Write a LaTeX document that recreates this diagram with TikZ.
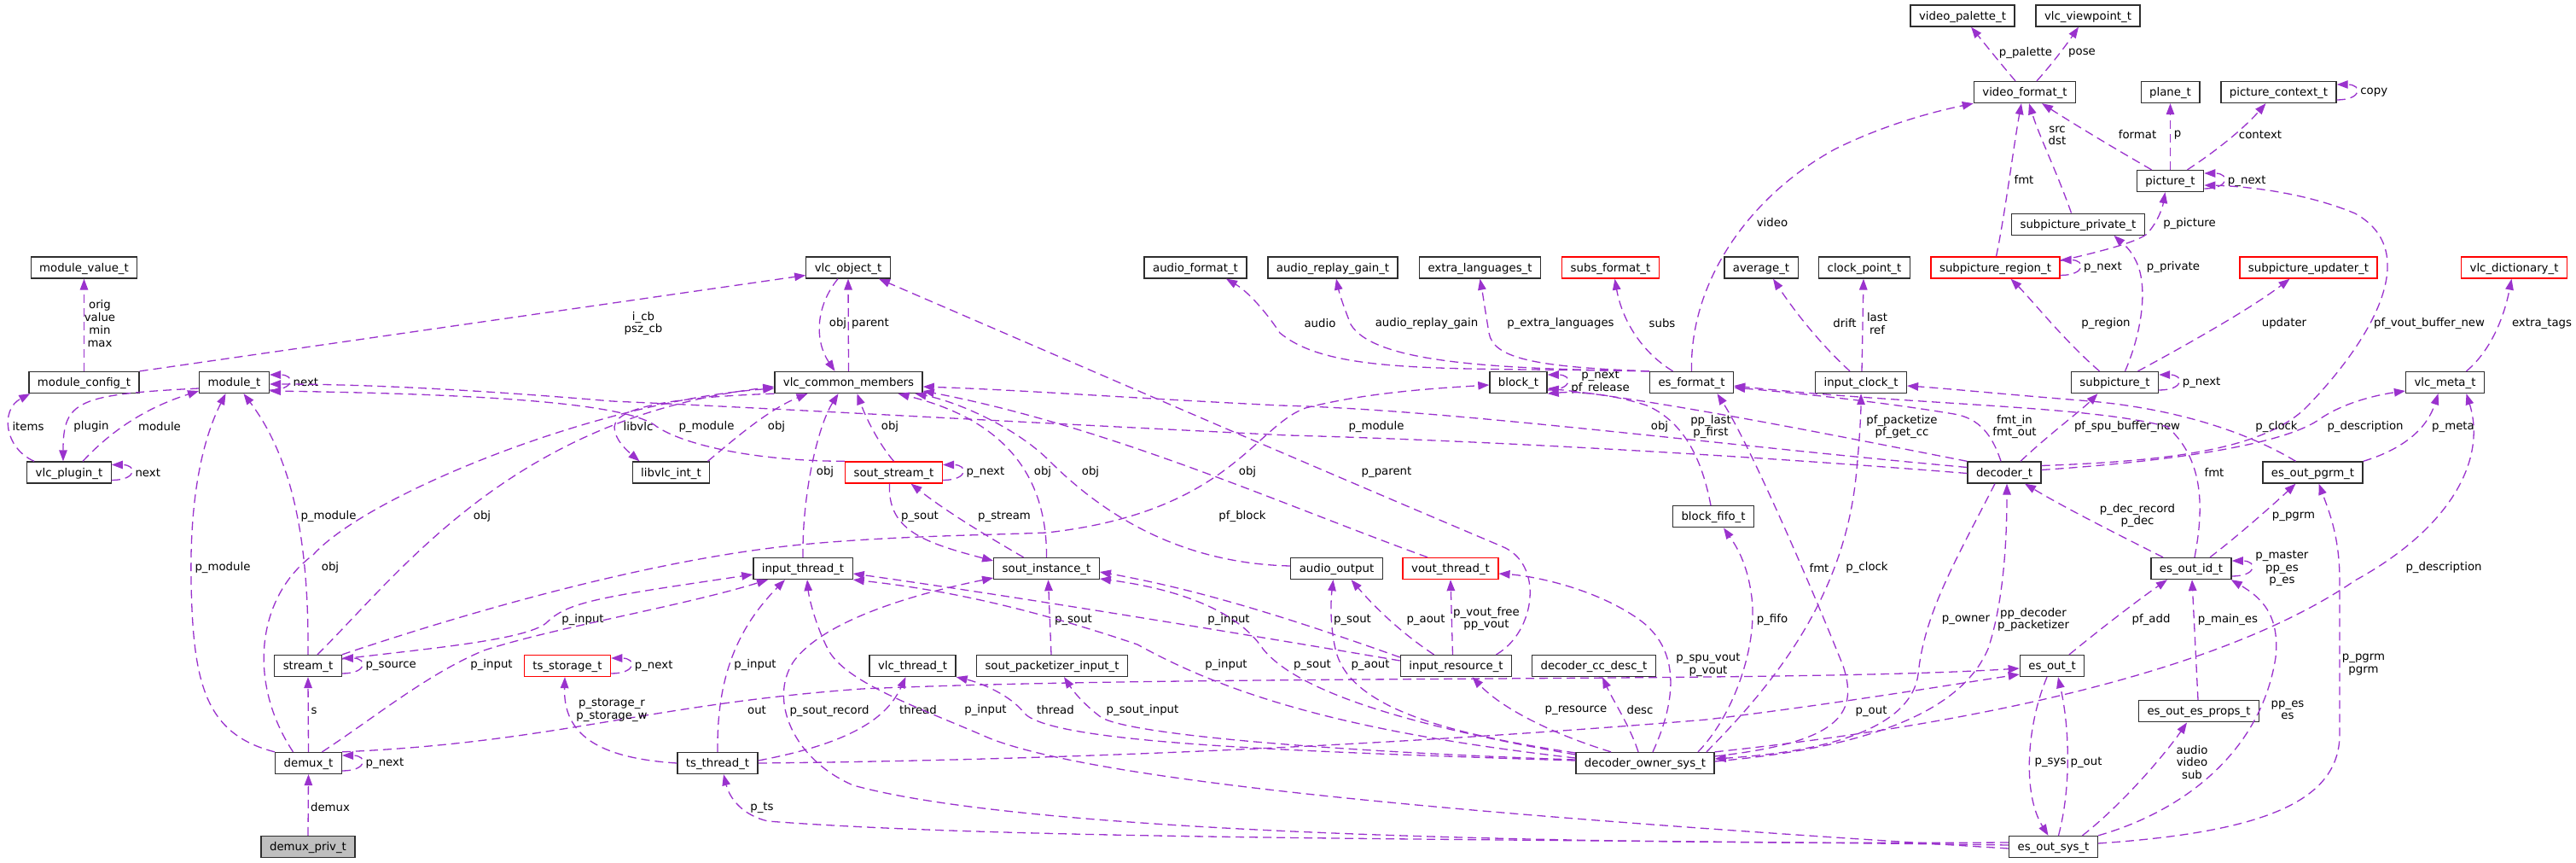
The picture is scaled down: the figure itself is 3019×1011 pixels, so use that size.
\documentclass[tikz,border=0pt]{standalone}
\usepackage{fontspec}
\setmainfont{DejaVu Sans}
\usetikzlibrary{arrows.meta}
\definecolor{linkcol}{HTML}{9A32CD}
\tikzset{cls/.style={draw=black!82, line width=1.3pt, fill=white, font=\fontsize{13.3}{14.7}\selectfont, inner xsep=10pt, inner ysep=0pt, minimum height=25pt, text height=11.5pt, text depth=2.3pt},
redcls/.style={cls, draw=red},
focuscls/.style={cls, fill=black!25}}

\begin{document}
\begin{tikzpicture}[x=1pt, y=-1pt,
  link/.style={draw=linkcol, line width=1.3pt, dash pattern=on 10pt off 6pt, -{Triangle[length=13pt,width=9.5pt]}},
  lbl/.style={font=\fontsize{13.3}{14.7}\selectfont, inner sep=0pt, align=center}]

\path[use as bounding box, fill=white] (0,0) rectangle (3019,1011);

% Nodes
\node[cls] (mval) at (98.5,313.5) {module\_value\_t};
\node[cls] (mcfg) at (98.5,448) {module\_config\_t};
\node[cls] (mod) at (274.5,448) {module\_t};
\node[cls] (plug) at (81,553.5) {vlc\_plugin\_t};
\node[cls] (strm) at (361,780) {stream\_t};
\node[cls] (dmx) at (361.5,894) {demux\_t};
\node[focuscls] (dpriv) at (361,992) {demux\_priv\_t};
\node[cls] (vobj) at (994,313.5) {vlc\_object\_t};
\node[cls] (vcm) at (994.5,448) {vlc\_common\_members};
\node[cls] (libvlc) at (786.5,553.5) {libvlc\_int\_t};
\node[cls] (inth) at (941,666) {input\_thread\_t};
\node[redcls] (tsst) at (665,780) {ts\_storage\_t};
\node[cls] (tsth) at (841,894) {ts\_thread\_t};
\node[redcls] (soutst) at (1047.5,553.5) {sout\_stream\_t};
\node[cls] (soutin) at (1226.5,666) {sout\_instance\_t};
\node[cls] (vthr) at (1069.5,780) {vlc\_thread\_t};
\node[cls] (spkt) at (1233,780) {sout\_packetizer\_input\_t};
\node[cls] (afmt) at (1401,313.5) {audio\_format\_t};
\node[cls] (argain) at (1562,313.5) {audio\_replay\_gain\_t};
\node[cls] (xlang) at (1734.5,313.5) {extra\_languages\_t};
\node[redcls] (subsf) at (1887.5,313.5) {subs\_format\_t};
\node[cls] (blk) at (1779.5,448) {block\_t};
\node[cls] (esfmt) at (1982.5,448) {es\_format\_t};
\node[cls] (aout) at (1566.5,666) {audio\_output};
\node[redcls] (vout) at (1700,666) {vout\_thread\_t};
\node[cls] (bfifo) at (2008,605.3) {block\_fifo\_t};
\node[cls] (ires) at (1706.5,780) {input\_resource\_t};
\node[cls] (ccdesc) at (1868,780) {decoder\_cc\_desc\_t};
\node[cls] (dos) at (1928,894) {decoder\_owner\_sys\_t};
\node[cls] (vpal) at (2300,18.5) {video\_palette\_t};
\node[cls] (vview) at (2447,18.5) {vlc\_viewpoint\_t};
\node[cls] (vfmt) at (2373,108) {video\_format\_t};
\node[cls] (sppriv) at (2435.5,262.7) {subpicture\_private\_t};
\node[cls] (avg) at (2064,313.5) {average\_t};
\node[cls] (clkpt) at (2185,313.5) {clock\_point\_t};
\node[redcls] (spreg) at (2338.5,313.5) {subpicture\_region\_t};
\node[cls] (iclk) at (2181,448) {input\_clock\_t};
\node[cls] (spic) at (2478.5,448) {subpicture\_t};
\node[cls] (dec) at (2349,553.5) {decoder\_t};
\node[cls] (esout) at (2405,780) {es\_out\_t};
\node[cls] (essys) at (2406.5,992) {es\_out\_sys\_t};
\node[cls] (plane) at (2543.5,108) {plane\_t};
\node[cls] (pctx) at (2670.5,108) {picture\_context\_t};
\node[cls] (pic) at (2543.5,212) {picture\_t};
\node[redcls] (spupd) at (2705.5,313.5) {subpicture\_updater\_t};
\node[redcls] (vdict) at (2946.5,313.5) {vlc\_dictionary\_t};
\node[cls] (vmeta) at (2865.5,448) {vlc\_meta\_t};
\node[cls] (pgrm) at (2710.5,553.5) {es\_out\_pgrm\_t};
\node[cls] (esid) at (2568,666) {es\_out\_id\_t};
\node[cls] (esprops) at (2577,833.3) {es\_out\_es\_props\_t};

% Self references
\foreach \n/\t in {mod/next, plug/next, strm/p\_source, dmx/p\_next, tsst/p\_next, soutst/p\_next, blk/{p\_next\\pf\_release}, pctx/copy, pic/p\_next, spreg/p\_next, spic/p\_next, esid/{p\_master\\pp\_es\\p\_es}}
  \draw[link] ([yshift=-9pt]\n.east) .. controls +(30,0) and +(30,0) .. ([yshift=9pt]\n.east) node[lbl, anchor=west] at ([xshift=27pt]\n.east) {\t};

% Module side
\draw[link] (mcfg.north) -- (mval.south) node[lbl] at (117,379) {orig\\value\\min\\max};
\draw[link] (mcfg.north east) -- ([yshift=-9pt]vobj.west) node[lbl] at (754,379) {i\_cb\\psz\_cb};
\draw[link] ([xshift=9pt]plug.north west) .. controls (5,525) and (0,480) .. ([xshift=2pt]mcfg.south west) node[lbl] at (33,500) {items};
\draw[link] ([yshift=-7pt]mod.west) .. controls (90,462) and (74,470) .. ([xshift=-7pt]plug.north) node[lbl] at (107,500) {plugin};
\draw[link] ([xshift=16pt]plug.north) .. controls (130,505) and (170,478) .. ([yshift=-10pt]mod.west) node[lbl] at (187,500) {module};
\draw[link] (dmx.north west) .. controls (240,860) and (226,800) .. (224,680) .. controls (222,560) and (245,500) .. ([xshift=-10pt]mod.south) node[lbl] at (261,665) {p\_module};
\draw[link] (strm.north) .. controls (362,640) and (345,540) .. ([xshift=11pt]mod.south) node[lbl] at (385,605) {p\_module};
\draw[link] ([xshift=-18pt]dmx.north) .. controls (290,800) and (300,700) .. (367,650) .. controls (430,580) and (700,470) .. ([yshift=-7pt]vcm.west) node[lbl] at (387,665) {obj};
\draw[link] ([xshift=11pt]strm.north) .. controls (470,670) and (600,490) .. ([yshift=-5pt]vcm.west) node[lbl] at (565,605) {obj};
\draw[link] (dpriv.north) -- (dmx.south) node[lbl] at (387,946) {demux};
\draw[link] (dmx.north) -- (strm.south) node[lbl] at (368,833) {s};
\draw[link] ([yshift=8pt]strm.east) .. controls (500,760) and (615,750) .. (640,730) .. controls (665,705) and (700,700) .. ([yshift=-7pt]inth.west) node[lbl] at (683,726) {p\_input};
\draw[link] (strm.north east) .. controls (600,700) and (800,650) .. (950,637) .. controls (1050,628) and (1150,627) .. (1227,624) .. controls (1440,600) and (1470,500) .. (1530,478) .. controls (1600,460) and (1680,455) .. ([yshift=-3pt]blk.west) node[lbl] at (1456,605) {pf\_block};
\draw[link] ([xshift=16pt]dmx.north) .. controls (440,840) and (500,790) .. (567,762) .. controls (650,735) and (800,710) .. ([xshift=-41pt]inth.south) node[lbl] at (576,779) {p\_input};
\draw[link] (dmx.north east) .. controls (650,870) and (760,825) .. (1010,807) .. controls (1400,790) and (2100,800) .. ([yshift=-3pt]esout.west) node[lbl] at (887,832) {out};

% Input thread side
\draw[link] (tsth.west) .. controls (700,888) and (660,860) .. ([xshift=-3pt]tsst.south) node[lbl] at (717,832) {p\_storage\_r\\p\_storage\_w};
\draw[link] (tsth.north) .. controls (840,800) and (860,740) .. ([xshift=-21pt]inth.south) node[lbl] at (885,779) {p\_input};
\draw[link] ([yshift=3pt]tsth.east) .. controls (1000,870) and (1040,840) .. ([xshift=-8pt]vthr.south) node[lbl] at (1076,832) {thread};
\draw[link] (tsth.east) .. controls (1300,890) and (1700,868) .. (2000,843) .. controls (2150,825) and (2300,800) .. ([yshift=-10pt]esout.west) node[lbl] at (2193,833) {p\_out};
\draw[link] ([yshift=2pt]essys.west) .. controls (1800,982) and (1200,985) .. (900,962) .. controls (870,955) and (855,935) .. ([xshift=7pt]tsth.south) node[lbl] at (893,946) {p\_ts};
\draw[link] ([yshift=5pt]essys.west) .. controls (1800,990) and (1200,975) .. (1000,920) .. controls (930,890) and (900,820) .. (930,775) .. controls (970,720) and (1100,690) .. ([yshift=-11pt]soutin.west) node[lbl] at (972,833) {p\_sout\_record};
\draw[link] ([yshift=-2pt]essys.west) .. controls (1800,960) and (1300,920) .. (1160,865) .. controls (1080,830) and (990,800) .. (970,760) .. controls (955,730) and (948,700) .. ([xshift=5pt]inth.south) node[lbl] at (1155,832) {p\_input};
\draw[link] (inth.north) .. controls (940,580) and (958,500) .. ([xshift=-12pt]vcm.south) node[lbl] at (967,553) {obj};
\draw[link] ([xshift=43pt]libvlc.north) .. controls (860,515) and (900,480) .. ([xshift=-48pt]vcm.south) node[lbl] at (910,500) {obj};
\draw[link] (vcm.south west) .. controls (800,465) and (722,475) .. (720,500) .. controls (720,515) and (735,528) .. ([xshift=-37pt]libvlc.north) node[lbl] at (748,500) {libvlc};
\draw[link] (soutst.north west) .. controls (880,540) and (800,520) .. (770,500) .. controls (740,475) and (600,462) .. ([yshift=-10pt]mod.east) node[lbl] at (828,500) {p\_module};

% Object
\draw[link] ([xshift=-12pt]vobj.south) .. controls (955,360) and (955,400) .. ([xshift=-16pt]vcm.north) node[lbl] at (982,379) {obj};
\draw[link] (vcm.north) -- (vobj.south) node[lbl] at (1020,379) {parent};

% Stream output
\draw[link] ([xshift=-5pt]soutst.south) .. controls (1040,620) and (1080,635) .. ([yshift=9pt]soutin.west) node[lbl] at (1078,605) {p\_sout};
\draw[link] ([xshift=-27pt]soutin.north) .. controls (1160,630) and (1110,600) .. ([xshift=20pt]soutst.south) node[lbl] at (1177,605) {p\_stream};
\draw[link] (soutst.north) .. controls (1030,520) and (1015,490) .. ([xshift=10pt]vcm.south) node[lbl] at (1043,500) {obj};
\draw[link] (soutin.north) .. controls (1227,570) and (1190,495) .. ([xshift=58pt]vcm.south) node[lbl] at (1222,553) {obj};
\draw[link] ([yshift=3pt]aout.west) .. controls (1380,660) and (1290,600) .. (1230,540) .. controls (1190,500) and (1120,470) .. ([xshift=78pt]vcm.south) node[lbl] at (1278,553) {obj};
\draw[link] ([xshift=-27pt]vout.north) .. controls (1500,590) and (1300,500) .. ([yshift=-10pt]vcm.east) node[lbl] at (1462,553) {obj};
\draw[link] ([xshift=-1pt]spkt.north) -- ([xshift=2pt]soutin.south) node[lbl] at (1258,726) {p\_sout};

% Input resource
\draw[link] ([xshift=47pt]ires.north) .. controls (1800,740) and (1810,660) .. (1760,640) .. controls (1500,530) and (1200,400) .. ([xshift=36pt]vobj.south) node[lbl] at (1625,553) {p\_parent};
\draw[link] ([xshift=-26pt]ires.north) .. controls (1640,740) and (1610,710) .. ([xshift=17pt]aout.south) node[lbl] at (1671,726) {p\_aout};
\draw[link] ([xshift=-4pt]ires.north) -- (vout.south) node[lbl] at (1742,725) {p\_vout\_free\\pp\_vout};
\draw[link] ([yshift=10pt]ires.west) .. controls (1500,720) and (1400,690) .. ([yshift=-4pt]soutin.east) node[lbl] at (1585,726) {p\_sout};
\draw[link] ([yshift=6pt]ires.west) .. controls (1500,750) and (1200,700) .. ([yshift=-6pt]inth.east) node[lbl] at (1440,726) {p\_input};

% Decoder owner
\draw[link] ([yshift=10pt]dos.west) .. controls (1650,850) and (1520,810) .. (1480,760) .. controls (1450,715) and (1380,690) .. ([yshift=-12pt]soutin.east) node[lbl] at (1538,779) {p\_sout};
\draw[link] ([yshift=12pt]dos.west) .. controls (1700,860) and (1580,830) .. (1565,760) .. controls (1558,730) and (1560,700) .. ([xshift=-4pt]aout.south) node[lbl] at (1606,779) {p\_aout};
\draw[link] ([yshift=6pt]dos.west) .. controls (1600,860) and (1450,820) .. (1333,755) .. controls (1200,710) and (1100,690) .. (inth.south east) node[lbl] at (1437,779) {p\_input};
\draw[link] ([yshift=3pt]dos.west) .. controls (1500,880) and (1230,870) .. (1200,835) .. controls (1185,815) and (1150,800) .. (vthr.south east) node[lbl] at (1237,832) {thread};
\draw[link] ([yshift=4pt]dos.west) .. controls (1550,880) and (1320,860) .. (1290,840) .. controls (1270,825) and (1258,810) .. ([xshift=14pt]spkt.south) node[lbl] at (1339,832) {p\_sout\_input};
\draw[link] ([xshift=-40pt]dos.north) .. controls (1820,860) and (1760,830) .. ([xshift=19pt]ires.south) node[lbl] at (1847,832) {p\_resource};
\draw[link] ([xshift=-8pt]dos.north) .. controls (1910,850) and (1890,820) .. ([xshift=10pt]ccdesc.south) node[lbl] at (1922,832) {desc};
\draw[link] ([xshift=9pt]dos.north) .. controls (1965,820) and (1970,760) .. (1920,725) .. controls (1870,690) and (1800,675) .. ([yshift=-6pt]vout.east) node[lbl] at (2002,779) {p\_spu\_vout\\p\_vout};
\draw[link] ([xshift=62pt]dos.north) .. controls (2030,840) and (2060,760) .. (2053,700) .. controls (2048,660) and (2035,640) .. ([xshift=12pt]bfifo.south) node[lbl] at (2077,726) {p\_fifo};
\draw[link] ([xshift=72pt]dos.north) .. controls (2080,800) and (2160,700) .. (2175,560) .. controls (2180,510) and (2181,480) .. (iclk.south) node[lbl] at (2188,665) {p\_clock};
\draw[link] ([yshift=8pt]dos.east) .. controls (2150,870) and (2180,840) .. (2160,780) .. controls (2120,680) and (2050,520) .. ([xshift=30pt]esfmt.south) node[lbl] at (2132,665) {fmt};
\draw[link] ([xshift=-11pt]dec.south) .. controls (2290,660) and (2255,720) .. (2248,790) .. controls (2240,850) and (2150,880) .. ([yshift=5pt]dos.east) node[lbl] at (2304,726) {p\_owner};
\draw[link] ([yshift=2pt]dos.east) .. controls (2200,875) and (2300,830) .. (2330,760) .. controls (2350,700) and (2352,620) .. ([xshift=3pt]dec.south) node[lbl] at (2383,726) {pp\_decoder\\p\_packetizer};
\draw[link] (dos.north east) .. controls (2300,850) and (2600,790) .. (2760,680) .. controls (2870,620) and (2915,540) .. ([xshift=25pt]vmeta.south) node[lbl] at (2864,665) {p\_description};

% Decoder
\draw[link] ([yshift=-1pt]dec.west) .. controls (2000,530) and (1700,515) .. (1510,510) .. controls (1200,495) and (900,478) .. (717,470) .. controls (600,460) and (450,450) .. ([yshift=-2pt]mod.east) node[lbl] at (1613,500) {p\_module};
\draw[link] ([yshift=6pt]dec.west) .. controls (2000,520) and (1700,480) .. (1500,475) .. controls (1300,465) and (1200,457) .. ([yshift=-5pt]vcm.east) node[lbl] at (1945,500) {obj};
\draw[link] ([yshift=3pt]dec.east) .. controls (2550,540) and (2680,520) .. (2720,490) .. controls (2750,470) and (2790,462) .. ([yshift=-10pt]vmeta.west) node[lbl] at (2772,500) {p\_description};
\draw[link] ([xshift=19pt]dec.north) .. controls (2400,510) and (2440,480) .. ([xshift=-20pt]spic.south) node[lbl] at (2493,500) {pf\_spu\_buffer\_new};
\draw[link] ([yshift=8pt]dec.east) .. controls (2550,540) and (2650,525) .. (2700,480) .. controls (2760,420) and (2850,300) .. (2760,250) .. controls (2700,225) and (2630,218) .. ([yshift=-5pt]pic.east) node[lbl] at (2847,379) {pf\_vout\_buffer\_new};
\draw[link] ([xshift=-4pt]dec.north) .. controls (2335,510) and (2320,490) .. (2290,485) .. controls (2200,470) and (2100,460) .. ([yshift=-6pt]esfmt.east) node[lbl] at (2361,500) {fmt\_in\\fmt\_out};
\draw[link] (dec.north west) .. controls (2150,510) and (1950,470) .. ([yshift=-7pt]blk.east) node[lbl] at (2229,500) {pf\_packetize\\pf\_get\_cc};
\draw[link] ([xshift=-3pt]bfifo.north) .. controls (1995,540) and (1975,495) .. (1930,475) .. controls (1890,462) and (1850,458) .. (blk.south east) node[lbl] at (2005,500) {pp\_last\\p\_first};

% Format
\draw[link] (esfmt.north west) .. controls (1700,430) and (1560,440) .. (1500,390) .. controls (1480,360) and (1460,340) .. ([xshift=36pt]afmt.south) node[lbl] at (1547,379) {audio};
\draw[link] (esfmt.north west) .. controls (1750,432) and (1610,425) .. (1583,380) .. controls (1575,360) and (1570,345) .. ([xshift=4pt]argain.south) node[lbl] at (1672,379) {audio\_replay\_gain};
\draw[link] (esfmt.north west) .. controls (1800,430) and (1750,420) .. (1745,390) .. controls (1740,360) and (1737,340) .. (xlang.south) node[lbl] at (1829,379) {p\_extra\_languages};
\draw[link] ([xshift=-22pt]esfmt.north) .. controls (1920,410) and (1900,370) .. ([xshift=5pt]subsf.south) node[lbl] at (1948,379) {subs};
\draw[link] (esfmt.north) .. controls (1980,330) and (2050,230) .. (2150,175) .. controls (2210,145) and (2270,130) .. (vfmt.south west) node[lbl] at (2077,261) {video};
\draw[link] ([xshift=-11pt]vfmt.north) .. controls (2345,75) and (2325,50) .. ([xshift=10pt]vpal.south) node[lbl] at (2374,62) {p\_palette};
\draw[link] ([xshift=14pt]vfmt.north) .. controls (2405,75) and (2422,52) .. ([xshift=-11pt]vview.south) node[lbl] at (2440,62) {pose};

% Pictures
\draw[link] ([xshift=1pt]spreg.north) .. controls (2350,250) and (2360,170) .. ([xshift=-4pt]vfmt.south) node[lbl] at (2372,210) {fmt};
\draw[link] ([xshift=-8pt]sppriv.north) .. controls (2410,200) and (2390,160) .. ([xshift=5pt]vfmt.south) node[lbl] at (2411,159) {src\\dst};
\draw[link] ([xshift=-22pt]pic.north) .. controls (2480,175) and (2430,145) .. ([xshift=20pt]vfmt.south) node[lbl] at (2505,158) {format};
\draw[link] (pic.north) -- (plane.south) node[lbl] at (2552,158) {p};
\draw[link] ([xshift=20pt]pic.north) .. controls (2600,175) and (2630,150) .. ([xshift=-15pt]pctx.south) node[lbl] at (2649,158) {context};
\draw[link] ([yshift=8pt]spreg.east) .. controls (2460,295) and (2500,285) .. (2515,275) .. controls (2530,260) and (2535,240) .. ([xshift=-6pt]pic.south) node[lbl] at (2566,262) {p\_picture};
\draw[link] ([xshift=-18pt]spic.north) .. controls (2420,400) and (2380,350) .. ([xshift=18pt]spreg.south) node[lbl] at (2468,379) {p\_region};
\draw[link] ([xshift=12pt]spic.north) .. controls (2510,390) and (2520,330) .. (2500,300) .. controls (2495,290) and (2485,283) .. ([xshift=42pt]sppriv.south) node[lbl] at (2547,313) {p\_private};
\draw[link] ([xshift=27pt]spic.north) .. controls (2570,400) and (2640,360) .. ([xshift=-22pt]spupd.south) node[lbl] at (2677,379) {updater};
\draw[link] ([xshift=25pt]vmeta.north) .. controls (2920,410) and (2935,370) .. ([xshift=-3pt]vdict.south) node[lbl] at (2979,379) {extra\_tags};

% Clock
\draw[link] ([xshift=-13pt]iclk.north) .. controls (2130,400) and (2100,360) .. ([xshift=14pt]avg.south) node[lbl] at (2162,379) {drift};
\draw[link] ([xshift=1pt]iclk.north) -- ([xshift=-1pt]clkpt.south) node[lbl] at (2200,379) {last\\ref};

% Elementary stream output
\draw[link] ([xshift=-6pt]esout.south) .. controls (2375,850) and (2370,930) .. ([xshift=-6pt]essys.north) node[lbl] at (2403,893) {p\_sys};
\draw[link] ([xshift=6pt]essys.north) .. controls (2428,920) and (2425,850) .. ([xshift=7pt]esout.south) node[lbl] at (2445,893) {p\_out};
\draw[link] ([xshift=34pt]essys.north) .. controls (2490,940) and (2540,880) .. ([xshift=-14pt]esprops.south) node[lbl] at (2569,893) {audio\\video\\sub};
\draw[link] (essys.north east) .. controls (2560,950) and (2650,880) .. (2667,770) .. controls (2672,720) and (2650,700) .. ([xshift=-1pt]esid.south east) node[lbl] at (2681,832) {pp\_es\\es};
\draw[link] ([yshift=4pt]essys.east) .. controls (2650,975) and (2742,940) .. (2742,860) -- (2742,680) .. controls (2742,630) and (2730,600) .. ([xshift=7pt]pgrm.south) node[lbl] at (2770,779) {p\_pgrm\\pgrm};
\draw[link] ([xshift=-33pt]esid.north) .. controls (2480,625) and (2420,595) .. ([xshift=24pt]dec.south) node[lbl] at (2505,604) {p\_dec\_record\\p\_dec};
\draw[link] ([xshift=4pt]esid.north) .. controls (2582,600) and (2585,540) .. (2540,500) .. controls (2450,475) and (2250,475) .. ([yshift=-4pt]esfmt.east) node[lbl] at (2595,553) {fmt};
\draw[link] ([xshift=22pt]esid.north) .. controls (2620,630) and (2660,595) .. ([xshift=-20pt]pgrm.south) node[lbl] at (2688,605) {p\_pgrm};
\draw[link] ([xshift=20pt]esout.north) .. controls (2470,730) and (2510,700) .. ([xshift=-28pt]esid.south) node[lbl] at (2521,726) {pf\_add};
\draw[link] ([xshift=-1pt]esprops.north) -- ([xshift=1pt]esid.south) node[lbl] at (2611,726) {p\_main\_es};
\draw[link] (pgrm.north east) .. controls (2820,525) and (2845,500) .. ([xshift=-8pt]vmeta.south) node[lbl] at (2875,500) {p\_meta};
\draw[link] ([xshift=-20pt]pgrm.north) .. controls (2640,510) and (2560,480) .. (2450,470) .. controls (2350,462) and (2280,455) .. ([yshift=-4pt]iclk.east) node[lbl] at (2668,500) {p\_clock};

\end{tikzpicture}
\end{document}
